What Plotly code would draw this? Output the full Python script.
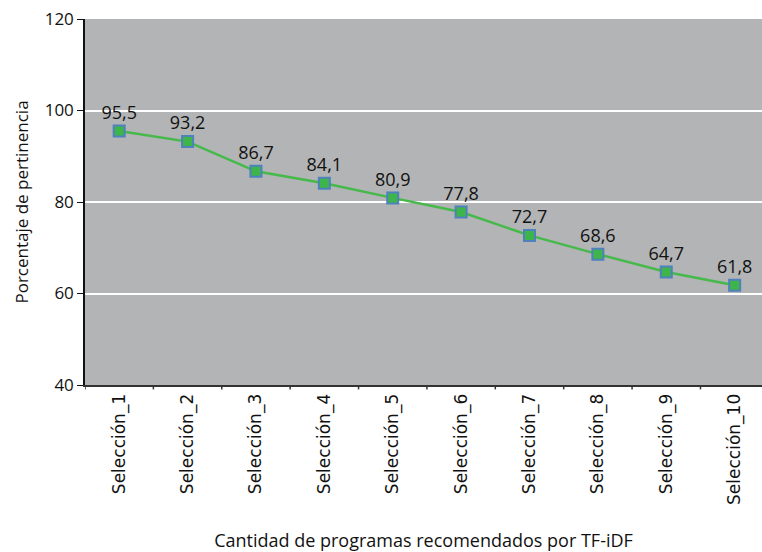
import plotly.graph_objects as go

# Categorías y porcentajes de pertinencia
categorias = [f"Selección_{i}" for i in range(1, 11)]
pertinencia = [95.5, 93.2, 86.7, 84.1, 80.9, 77.8, 72.7, 68.6, 64.7, 61.8]
etiquetas = [f"{v:.1f}".replace(".", ",") for v in pertinencia]
ticks_y = [40, 60, 80, 100, 120]

fig = go.Figure()
fig.add_trace(go.Scatter(
    x=list(range(len(categorias))),
    y=pertinencia,
    mode="lines+markers+text",
    text=etiquetas,
    textposition="top center",
    textfont=dict(family="Open Sans", size=18, color="#111111"),
    line=dict(color="#45b94a", width=2.5),
    marker=dict(symbol="square", size=11, color="#3db54a",
                line=dict(color="#4f81bd", width=2)),
    cliponaxis=False,
    showlegend=False,
))

fig.update_layout(
    width=762, height=552,
    margin=dict(l=85, r=0, t=19, b=167),
    paper_bgcolor="white",
    plot_bgcolor="#b2b4b5",
    font=dict(family="Open Sans", color="#111111"),
)

fig.update_xaxes(
    tickmode="array",
    tickvals=list(range(len(categorias))),
    ticktext=categorias,
    tickangle=-90,
    tickfont=dict(family="DejaVu Sans", size=17),
    range=[-0.5, 9.4],
    showgrid=False, zeroline=False,
    showline=True, linecolor="#333333", linewidth=2,
    ticks="",
    title=dict(text="Cantidad de programas recomendados por TF-iDF",
               font=dict(family="Open Sans", size=18), standoff=30),
)
# Marcas entre categorías
for i in range(len(categorias)):
    fig.add_shape(type="line", xref="x", yref="paper",
                  x0=i - 0.5, x1=i - 0.5, y0=0, y1=-0.012,
                  line=dict(color="#333333", width=1.5))

fig.update_yaxes(
    range=[40, 120],
    tickmode="array", tickvals=ticks_y,
    tickfont=dict(family="Open Sans", size=17),
    showgrid=True, gridcolor="white", gridwidth=1.5,
    showline=True, linecolor="#111111", linewidth=1.5,
    ticks="outside", ticklen=6, tickcolor="#111111",
    zeroline=False,
    title=dict(text="Porcentaje de pertinencia",
               font=dict(family="Open Sans", size=17), standoff=12),
)

fig.write_html("out.html")
